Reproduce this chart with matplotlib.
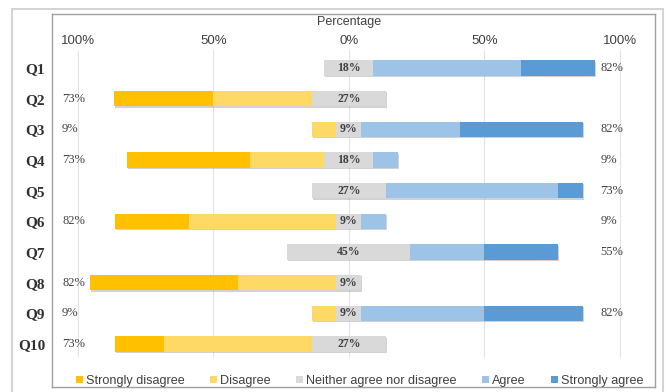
import matplotlib
matplotlib.use("Agg")
import matplotlib.pyplot as plt
import matplotlib.patches as mpatches
import matplotlib.patheffects as pe
import numpy as np

# data (percent of respondents)
questions = ['Q1', 'Q2', 'Q3', 'Q4', 'Q5', 'Q6', 'Q7', 'Q8', 'Q9', 'Q10']
strongly_disagree = [0, 36.4, 0, 45.5, 0, 27.3, 0, 54.5, 0, 18.2]
disagree = [0, 36.4, 9.1, 27.3, 0, 54.5, 0, 36.4, 9.1, 54.5]
neutral = [18.2, 27.3, 9.1, 18.2, 27.3, 9.1, 45.4, 9.1, 9.1, 27.3]
agree = [54.5, 0, 36.4, 9.1, 63.6, 9.1, 27.3, 0, 45.5, 0]
strongly_agree = [27.3, 0, 45.5, 0, 9.1, 0, 27.3, 0, 36.4, 0]
# labels as printed on the chart
left_labels = ['', '73%', '9%', '73%', '', '82%', '', '82%', '9%', '73%']
mid_labels = ['18%', '27%', '9%', '18%', '27%', '9%', '45%', '9%', '9%', '27%']
right_labels = ['82%', '', '82%', '9%', '73%', '9%', '55%', '', '82%', '']
categories = ['Strongly disagree', 'Disagree', 'Neither agree nor disagree', 'Agree', 'Strongly agree']
tick_vals = [-100, -50, 0, 50, 100]
tick_labels = ['100%', '50%', '0%', '50%', '100%']

colors = ['#FFC000', '#FFD966', '#D9D9D9', '#9DC3E6', '#5B9BD5']
TXT = '#404040'
SERIF = 'Liberation Serif'
SANS = 'Liberation Sans'

sd = np.array(strongly_disagree)
d = np.array(disagree)
n = np.array(neutral)
a = np.array(agree)
sa = np.array(strongly_agree)
y = np.arange(len(questions))

fig = plt.figure(figsize=(6.67, 3.92), dpi=100)
W, H = 667, 392
ax = fig.add_axes([52 / W, 1 - 387 / H, (655 - 52) / W, (387 - 14) / H])

# outer chart frame
fig.patches.append(mpatches.Rectangle((12 / W, -0.05), (663 - 12) / W, 1 - 9 / H + 0.05,
                                      transform=fig.transFigure, fill=False,
                                      edgecolor='#D4D4D4', linewidth=1.5))

bh = 0.5
shadow = [pe.SimplePatchShadow(offset=(0.6, -1.0), alpha=0.35, shadow_rgbFace='#808080'), pe.Normal()]
lefts = [-n / 2 - d - sd, -n / 2 - d, -n / 2, n / 2, n / 2 + a]
widths = [sd, d, n, a, sa]
for i in range(5):
    ax.barh(y, widths[i], left=lefts[i], height=bh, color=colors[i], zorder=3,
            path_effects=shadow, label=categories[i])

ax.set_xlim(-109.5, 113.0)
ax.set_ylim(10.4, -1.76)

# light vertical gridlines
ax.vlines(tick_vals, -0.59, 9.42, color='#E3E3E3', linewidth=0.8, zorder=1)

for i in range(len(questions)):
    ax.text(0, y[i], mid_labels[i], ha='center', va='center', fontsize=8.5,
            family=SERIF, fontweight='bold', color=TXT, zorder=4)
    ax.text(-105.8, y[i], left_labels[i], ha='left', va='center',
            fontsize=9, family=SERIF, color=TXT)
    ax.text(92.8, y[i], right_labels[i], ha='left', va='center',
            fontsize=9, family=SERIF, color=TXT)

ax.set_yticks(y, questions)
ax.tick_params(axis='y', length=0, pad=5)
for lbl in ax.get_yticklabels():
    lbl.set_family(SERIF)
    lbl.set_fontweight('bold')
    lbl.set_fontsize(11)
    lbl.set_color('#303030')

ax.set_xticks(tick_vals, tick_labels)
ax.tick_params(axis='x', top=True, labeltop=True, bottom=False, labelbottom=False,
               length=0, pad=-24, labelsize=9.5, labelcolor=TXT)
for lbl in ax.get_xticklabels():
    lbl.set_family(SANS)
ax.text(0, -1.5, 'Percentage', ha='center', va='center', fontsize=9, family=SANS, color=TXT)

for s in ax.spines.values():
    s.set_color('#A0A0A0')
    s.set_linewidth(1.0)

handles = [mpatches.Patch(facecolor=c, label=l) for c, l in zip(colors, categories)]
leg = ax.legend(handles=handles, loc='lower center', bbox_to_anchor=(0.51, -0.03), ncol=5,
                frameon=False, handlelength=0.55, handleheight=0.45, handletextpad=0.25,
                columnspacing=2.0, prop={'family': SANS, 'size': 9.1})
for t in leg.get_texts():
    t.set_color(TXT)

fig.savefig('out.png', dpi=100)
